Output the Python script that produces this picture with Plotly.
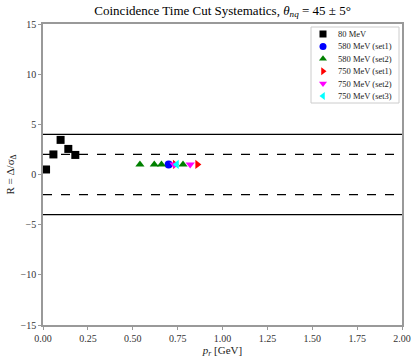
import plotly.graph_objects as go

# Data
x_80 = [0.017, 0.058, 0.098, 0.141, 0.18]
y_80 = [0.5, 2.0, 3.45, 2.55, 1.95]
x_580_s1 = [0.70]
y_580_s1 = [1.0]
x_580_s2 = [0.54, 0.62, 0.66, 0.78]
y_580_s2 = [1.0, 1.0, 1.0, 1.0]
x_750_s1 = [0.735, 0.86]
y_750_s1 = [1.0, 1.0]
x_750_s2 = [0.73, 0.82]
y_750_s2 = [1.0, 1.0]
x_750_s3 = [0.745]
y_750_s3 = [1.0]
solid_levels = [4, -4]
dashed_levels = [2, -2]
series_names = ["80 MeV", "580 MeV (set1)", "580 MeV (set2)",
                "750 MeV (set1)", "750 MeV (set2)", "750 MeV (set3)"]

series = [
    (x_80, y_80, "square", "black"),
    (x_580_s1, y_580_s1, "circle", "blue"),
    (x_580_s2, y_580_s2, "triangle-up", "green"),
    (x_750_s1, y_750_s1, "triangle-right", "red"),
    (x_750_s2, y_750_s2, "triangle-down", "magenta"),
    (x_750_s3, y_750_s3, "triangle-left", "cyan"),
]

font = "Liberation Serif"
fig = go.Figure()
for name, (xs, ys, sym, col) in zip(series_names, series):
    fig.add_trace(go.Scatter(x=xs, y=ys, mode="markers", name=name, showlegend=False,
                             marker=dict(symbol=sym, color=col, size=8,
                                         line=dict(width=0))))

# Custom compact legend drawn on an overlay axis measured in pixels of the plot area
leg_x_marker = 323
leg_x_text = 336
leg_y0 = 34
leg_dy = 12.4
shapes = [dict(type="rect", xref="x2", yref="y2", x0=311, x1=399, y0=27, y1=103,
               line=dict(color="#cccccc", width=1), fillcolor="white", layer="below")]
annotations = []
for i, (name, (xs, ys, sym, col)) in enumerate(zip(series_names, series)):
    yy = leg_y0 + i * leg_dy
    fig.add_trace(go.Scatter(x=[leg_x_marker], y=[yy], xaxis="x2", yaxis="y2",
                             mode="markers", showlegend=False, hoverinfo="skip",
                             marker=dict(symbol=sym, color=col, size=7, line=dict(width=0))))
    annotations.append(dict(x=leg_x_text, y=yy, xref="x2", yref="y2", text=name,
                            showarrow=False, xanchor="left", yanchor="middle",
                            font=dict(family=font, size=8.5, color="#222")))

for lv in solid_levels:
    shapes.append(dict(type="line", xref="paper", x0=0, x1=1, yref="y", y0=lv, y1=lv,
                       line=dict(color="black", width=1.3)))
for lv in dashed_levels:
    shapes.append(dict(type="line", xref="paper", x0=0, x1=1, yref="y", y0=lv, y1=lv,
                       line=dict(color="black", width=1.3, dash="dash")))

fig.update_layout(
    width=420, height=360,
    margin=dict(l=43, r=18, t=24, b=35, autoexpand=False),
    plot_bgcolor="white", paper_bgcolor="white",
    font=dict(family=font, size=10, color="#333"),
    title=dict(text="Coincidence Time Cut Systematics, <i>θ</i><sub><i>nq</i></sub> = 45 ± 5°",
               x=0.53, xanchor="center", y=0.985, yanchor="top",
               font=dict(family=font, size=13, color="black")),
    shapes=shapes,
    annotations=annotations,
    showlegend=False,
    hovermode=False,
    xaxis=dict(range=[0, 2], tickvals=[0, 0.25, 0.5, 0.75, 1.0, 1.25, 1.5, 1.75, 2.0],
               tickformat=".2f", showgrid=False, zeroline=False, automargin=False,
               showline=True, linecolor="#999", linewidth=1.5, mirror=True,
               ticks="outside", ticklen=3, tickcolor="#999",
               title=dict(text="<i>p</i><sub><i>r</i></sub> [GeV]", standoff=2,
                          font=dict(family=font, size=11, color="#222"))),
    yaxis=dict(range=[-15, 15], tickvals=[-15, -10, -5, 0, 5, 10, 15],
               showgrid=False, zeroline=False, automargin=False,
               showline=True, linecolor="#999", linewidth=1.5, mirror=True,
               ticks="outside", ticklen=3, tickcolor="#999",
               title=dict(text="R = Δ/σ<sub>Δ</sub>", standoff=4,
                          font=dict(family=font, size=11, color="#222"))),
    xaxis2=dict(overlaying="x", range=[43, 402], visible=False, fixedrange=True),
    yaxis2=dict(overlaying="y", range=[325, 24], visible=False, fixedrange=True),
)

fig.write_html("out.html", config={"displayModeBar": False},
               post_script="document.body.style.margin='0';")
